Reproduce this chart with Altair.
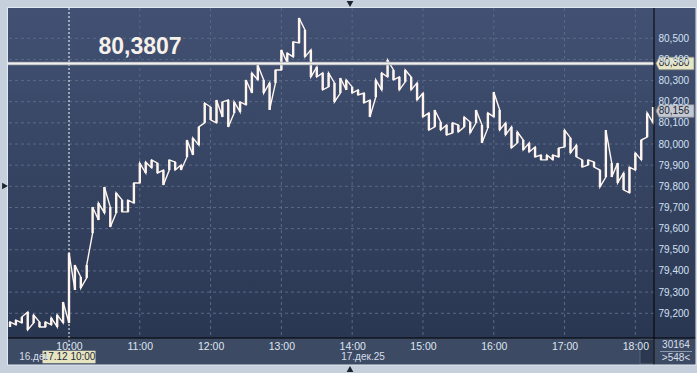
import altair as alt
import pandas as pd

# ---- data (5-minute bars, minutes relative to 17.12 10:00) ----
bar_minute = list(range(-50, 500, 5))
bar_high = [
    79.159, 79.168, 79.182, 79.206, 79.192, 79.159, 79.159, 79.178, 79.192, 79.253,
    79.485, 79.428, 79.371, 79.428, 79.702, 79.721, 79.797, 79.702, 79.769, 79.735,
    79.735, 79.816, 79.910, 79.915, 79.925, 79.910, 79.877, 79.925, 79.915, 79.901,
    80.019, 80.029, 80.081, 80.194, 80.175, 80.208, 80.199, 80.208, 80.199, 80.199,
    80.303, 80.336, 80.374, 80.303, 80.289, 80.350, 80.445, 80.430, 80.483, 80.596,
    80.539, 80.445, 80.364, 80.336, 80.336, 80.289, 80.312, 80.303, 80.270, 80.256,
    80.241, 80.208, 80.303, 80.336, 80.397, 80.350, 80.317, 80.350, 80.317, 80.289,
    80.241, 80.147, 80.161, 80.104, 80.090, 80.100, 80.090, 80.128, 80.104, 80.161,
    80.090, 80.147, 80.246, 80.161, 80.100, 80.081, 80.057, 80.019, 80.005, 79.986,
    79.948, 79.948, 79.948, 79.981, 80.066, 80.029, 79.995, 79.925, 79.925, 79.915,
    79.877, 80.066, 79.910, 79.910, 79.863, 79.891, 79.958, 80.019, 80.147, 80.175,
]
bar_low = [
    79.135, 79.145, 79.154, 79.121, 79.154, 79.135, 79.135, 79.145, 79.135, 79.154,
    79.154, 79.310, 79.319, 79.367, 79.579, 79.641, 79.674, 79.608, 79.674, 79.679,
    79.679, 79.721, 79.816, 79.863, 79.887, 79.863, 79.806, 79.877, 79.877, 79.877,
    79.939, 79.948, 79.995, 80.100, 80.114, 80.100, 80.128, 80.081, 80.147, 80.152,
    80.185, 80.241, 80.303, 80.241, 80.161, 80.289, 80.350, 80.383, 80.412, 80.478,
    80.412, 80.317, 80.317, 80.256, 80.270, 80.199, 80.241, 80.256, 80.241, 80.232,
    80.194, 80.128, 80.222, 80.256, 80.317, 80.303, 80.256, 80.294, 80.256, 80.208,
    80.128, 80.066, 80.081, 80.066, 80.043, 80.052, 80.057, 80.081, 80.052, 80.100,
    80.005, 80.076, 80.128, 80.066, 80.043, 79.981, 80.005, 79.972, 79.962, 79.939,
    79.925, 79.925, 79.925, 79.939, 79.986, 79.958, 79.939, 79.891, 79.901, 79.891,
    79.797, 79.844, 79.844, 79.816, 79.783, 79.769, 79.877, 79.925, 80.033, 80.100,
]
y_ticks = [79.2, 79.3, 79.4, 79.5, 79.6, 79.7, 79.8, 79.9, 80.0, 80.1, 80.2, 80.3, 80.4, 80.5]
x_ticks = [0, 60, 120, 180, 240, 300, 360, 420, 480]
hour_labels = ["10:00", "11:00", "12:00", "13:00", "14:00", "15:00", "16:00", "17:00", "18:00"]
level_price = 80.3807
level_text = "80,3807"
level_tag_label = "80,380"
last_price = 80.156
last_tag_label = "80,156"
cursor_minute = 0
cursor_text = "17.12 10:00"
prev_day_text = "16.дек"
date_text = "17.дек.25"
count_text = "30164"
bars_text = ">548<"

# ---- build zigzag path through each bar's range ----
rows = []
seq = 0
prev_mid = None
for m, h, l in zip(bar_minute, bar_high, bar_low):
    mid = (h + l) / 2
    rising = prev_mid is None or mid >= prev_mid
    for p in ([l, h] if rising else [h, l]):
        rows.append({"minute": m, "price": p, "seq": seq})
        seq += 1
    prev_mid = mid
df = pd.DataFrame(rows)
bars = pd.DataFrame({"minute": bar_minute, "hi": bar_high, "lo": bar_low})

W, H = 646, 330
FONT = "Liberation Sans"
xs = alt.Scale(domain=[-51.7, 495.8], nice=False, zero=False)
ys = alt.Scale(domain=[79.083, 80.643], nice=False, zero=False)

lbl_js = "[" + ",".join("'%s'" % s for s in hour_labels) + "]"
x_axis = alt.Axis(values=x_ticks, labelExpr=lbl_js + "[round(datum.value/60)]",
                  orient="bottom", ticks=False, domain=False, grid=False,
                  labelFont=FONT, labelFontSize=10.5, labelColor="#dfe6ef",
                  labelPadding=3, labelFlush=False, labelOverlap=False, title=None, zindex=1)
y_axis = alt.Axis(values=y_ticks, labelExpr="replace(format(datum.value, '.3f'), '.', ',')",
                  orient="right", ticks=False, domain=False, grid=False,
                  labelFont=FONT, labelFontSize=10, labelColor="#d3e1f3",
                  labelPadding=4, labelFlush=False, labelOverlap=False, title=None, zindex=1)

X = lambda f: alt.X(f, type="quantitative", scale=xs, axis=x_axis)
Y = lambda f: alt.Y(f, type="quantitative", scale=ys, axis=y_axis)

one = pd.DataFrame({"a": [0]})
grad = alt.LinearGradient(gradient="linear",
                          stops=[alt.GradientStop(color="#425173", offset=0),
                                 alt.GradientStop(color="#2a3752", offset=1)],
                          x1=0, x2=0, y1=0, y2=1)

bg = alt.Chart(one).mark_rect(color=grad).encode(
    x=alt.value(0), x2=alt.value(W), y=alt.value(0), y2=alt.value(H))
right_band = alt.Chart(one).mark_rect(color=grad).encode(
    x=alt.value(W), x2=alt.value(688), y=alt.value(0), y2=alt.value(H))
bottom_band = alt.Chart(one).mark_rect(color="#3d4a64").encode(
    x=alt.value(0), x2=alt.value(688), y=alt.value(H), y2=alt.value(357))
scroll_box = alt.Chart(one).mark_rect(color="#2c384f", stroke="#55627a", strokeWidth=1).encode(
    x=alt.value(632), x2=alt.value(W), y=alt.value(331), y2=alt.value(356))
border = alt.Chart(one).mark_rect(fillOpacity=0, stroke="#e2e8ef", strokeWidth=1).encode(
    x=alt.value(-0.5), x2=alt.value(688), y=alt.value(-0.5), y2=alt.value(357))
vline = alt.Chart(one).mark_rule(color="#000000", strokeWidth=1).encode(
    x=alt.value(W), y=alt.value(0), y2=alt.value(357))
hline = alt.Chart(one).mark_rule(color="#000000", strokeWidth=1).encode(
    y=alt.value(H), x=alt.value(0), x2=alt.value(688))

ygrid = alt.Chart(pd.DataFrame({"v": y_ticks})).mark_rule(
    color="#5a6985", strokeDash=[3, 3], strokeWidth=1).encode(y=Y("v"))
xgrid = alt.Chart(pd.DataFrame({"m": x_ticks[1:]})).mark_rule(
    color="#5a6985", strokeDash=[3, 3], strokeWidth=1).encode(x=X("m"))

cursor_df = pd.DataFrame({"m": [cursor_minute], "t": [cursor_text]})
cursor = alt.Chart(cursor_df).mark_rule(color="#ffffff", strokeDash=[2, 2], strokeWidth=1).encode(
    x=X("m"), y=alt.value(0), y2=alt.value(343))

ranges = alt.Chart(bars).mark_rule(color="#fff5ef", strokeWidth=2.4).encode(
    x=X("minute"), y=Y("lo"), y2="hi:Q")
line = alt.Chart(df).mark_line(color="#fff5ef", strokeWidth=1.4).encode(
    x=X("minute"), y=Y("price"), order="seq:Q")

lvl_df = pd.DataFrame({"p": [level_price], "t": [level_text], "b": [level_tag_label]})
lvl_shadow = alt.Chart(lvl_df).mark_rule(color="#9aa0a8", strokeWidth=3.5).encode(
    y=Y("p"), x=alt.value(0), x2=alt.value(W))
lvl_line = alt.Chart(lvl_df).mark_rule(color="#f2f0ee", strokeWidth=2).encode(
    y=Y("p"), x=alt.value(0), x2=alt.value(W))
lvl_text = alt.Chart(lvl_df).mark_text(font=FONT, fontSize=23, fontWeight="bold",
                                       color="#f6f1ea", align="center", baseline="middle").encode(
    x=alt.value(132), y=alt.value(39), text="t:N")

tag_shape = "M-1,0 L-0.84,-0.33 L1,-0.33 L1,0.33 L-0.84,0.33 Z"
lvl_tag = alt.Chart(lvl_df).mark_point(shape=tag_shape, size=1444, filled=True, opacity=1,
                                       color="#e6e6c6", stroke="#8a8f80", strokeWidth=0.8).encode(
    y=Y("p"), x=alt.value(667))
lvl_tag_text = alt.Chart(lvl_df).mark_text(font=FONT, fontSize=10, color="#1a2436",
                                           align="center", baseline="middle").encode(
    y=Y("p"), x=alt.value(666), text="b:N")

last_df = pd.DataFrame({"p": [last_price], "b": [last_tag_label]})
last_tag = alt.Chart(last_df).mark_point(shape=tag_shape, size=1444, filled=True, opacity=1,
                                         color="#c4c8d0", stroke="#7d8594", strokeWidth=0.8).encode(
    y=Y("p"), x=alt.value(667))
last_tag_text = alt.Chart(last_df).mark_text(font=FONT, fontSize=10, color="#1a2436",
                                             align="center", baseline="middle").encode(
    y=Y("p"), x=alt.value(666), text="b:N")

cursor_box = alt.Chart(cursor_df).mark_point(
    shape="M-1,-0.235 L1,-0.235 L1,0.235 L-1,0.235 Z", size=2809, filled=True, opacity=1,
    color="#e7e5c0").encode(x=X("m"), y=alt.value(349))
cursor_lbl = alt.Chart(cursor_df).mark_text(font=FONT, fontSize=10, color="#1e2838",
                                            align="center", baseline="middle").encode(
    x=X("m"), y=alt.value(349), text="t:N")

txt_df = pd.DataFrame({"t": [prev_day_text, date_text, count_text, bars_text],
                       "x": [26, 355, 668, 668], "y": [349, 349, 337, 350]})
texts = alt.Chart(txt_df).mark_text(font=FONT, fontSize=10, color="#d7dfea",
                                    align="center", baseline="middle").encode(
    x=alt.X("x:Q", scale=None, axis=None), y=alt.Y("y:Q", scale=None, axis=None), text="t:N")
sep = alt.Chart(one).mark_rule(color="#8b97ab", strokeWidth=1).encode(
    y=alt.value(343.5), x=alt.value(652), x2=alt.value(684))

tri_df = pd.DataFrame({"x": [342, 342, -3], "y": [-4, 361, 178],
                       "s": ["triangle-down", "triangle-up", "triangle-right"]})
tris = alt.Chart(tri_df).mark_point(filled=True, opacity=1, size=45, color="#1c2430").encode(
    x=alt.X("x:Q", scale=None, axis=None), y=alt.Y("y:Q", scale=None, axis=None),
    shape=alt.Shape("s:N", scale=None, legend=None))

chart = alt.layer(
    bg, right_band, bottom_band, scroll_box, ygrid, xgrid, cursor, ranges, line,
    lvl_shadow, lvl_line, lvl_text, vline, hline, border,
    lvl_tag, lvl_tag_text, last_tag, last_tag_text,
    cursor_box, cursor_lbl, texts, sep, tris
).properties(
    width=W, height=H,
    padding={"left": 8, "top": 8, "right": 43, "bottom": 35},
    autosize=alt.AutoSizeParams(type="none"),
    background="#c5d0dc",
).configure_view(strokeWidth=0)

chart.save("out.html", embed_options={"renderer": "svg", "actions": False})
